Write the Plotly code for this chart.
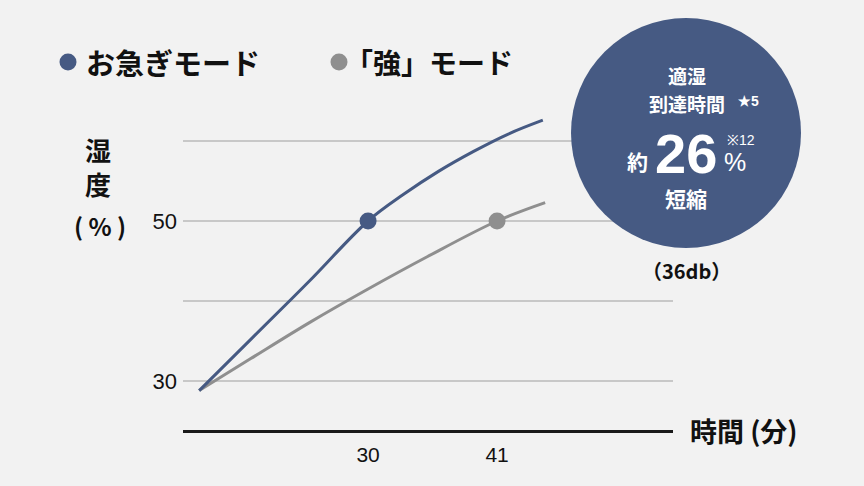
import plotly.graph_objects as go

# 湿度の立ち上がり
time_quick = [15.6, 20, 25, 30, 33, 36, 39, 42, 44.9]
humid_quick = [28.8, 35.2, 42.5, 50, 53.3, 56.2, 58.7, 60.9, 62.6]
time_strong = [15.6, 20, 25, 30, 35, 41, 45.1]
humid_strong = [28.8, 32.8, 37.3, 41.5, 45.5, 50, 52.3]

# 適湿（50%）到達時間
reach_time = [30, 41]
reach_humid = [50, 50]

mode_names = ["お急ぎモード", "「強」モード"]
y_grid = [30, 40, 50, 60]
y_labels = ["30", "", "50", ""]
x_ticks = [30, 41]

BLUE = "#465a83"
GRAY = "#8f8f8f"
BG = "#f2f2f2"
JP = "Noto Sans CJK JP"
NUM = "Liberation Sans, Arial, sans-serif"

# plot area in pixels, used to place the free text
L, R, T, B = 183, 673, 20, 430


def px(x):
    return (x - L) / (R - L)


def py(y):
    return (B - y) / (B - T)


fig = go.Figure()
fig.add_trace(go.Scatter(x=time_strong, y=humid_strong, mode="lines",
                         line=dict(color=GRAY, width=3, shape="spline", smoothing=1),
                         name=mode_names[1]))
fig.add_trace(go.Scatter(x=time_quick, y=humid_quick, mode="lines",
                         line=dict(color=BLUE, width=3, shape="spline", smoothing=1),
                         name=mode_names[0]))
fig.add_trace(go.Scatter(x=reach_time, y=reach_humid, mode="markers",
                         marker=dict(size=17, color=[BLUE, GRAY]), hoverinfo="skip"))

fig.update_xaxes(range=[14.22, 56.0], showgrid=False, zeroline=False,
                 showline=True, linecolor="#1a1a1a", linewidth=2.5,
                 tickvals=x_ticks, ticks="", ticklabelstandoff=4,
                 tickfont=dict(family=NUM, size=21, color="#111"))
fig.update_yaxes(range=[23.875, 75.125], showgrid=True, gridcolor="#c8c8c8", gridwidth=1.5,
                 zeroline=False, showline=False, tickvals=y_grid, ticktext=y_labels,
                 ticks="", ticklabelstandoff=5,
                 tickfont=dict(family=NUM, size=22, color="#111"))

shapes = [
    dict(type="circle", xref="paper", yref="paper", layer="above", line_width=0,
         fillcolor=BLUE, x0=px(571), x1=px(801), y0=py(248), y1=py(18)),
    dict(type="circle", xref="paper", yref="paper", line_width=0, fillcolor=BLUE,
         x0=px(59.5), x1=px(76.5), y0=py(70.5), y1=py(53.5)),
    dict(type="circle", xref="paper", yref="paper", line_width=0, fillcolor=GRAY,
         x0=px(330.5), x1=px(347.5), y0=py(70.5), y1=py(53.5)),
]


def note(text, x, y, size, color="#111", family=JP, xanchor="center"):
    return dict(text=text, x=px(x), y=py(y), xref="paper", yref="paper",
                xanchor=xanchor, yanchor="middle", showarrow=False,
                font=dict(family=family, size=size, color=color))


annotations = [
    note("<b>" + mode_names[0] + "</b>", 84, 62, 29, xanchor="left"),
    note("<b>" + mode_names[1] + "</b>", 343, 62, 28, xanchor="left"),
    note("<b>湿<br>度</b>", 98, 166, 26),
    note("<b>( % )</b>", 100, 225, 24),
    note("<b>時間 (分)</b>", 688, 430, 27, xanchor="left"),
    note("<b>適湿</b>", 687, 75, 19, color="white"),
    note("<b>到達時間</b>", 687, 104, 19, color="white"),
    note("<b>★5</b>", 736, 101, 14, color="white", family=NUM, xanchor="left"),
    note("<b>約</b>", 637, 161, 21, color="white"),
    note("<b>26</b>", 686, 154, 56, color="white", family=NUM),
    note("※12", 741, 140, 14, color="white", family=NUM),
    note("%", 735, 162, 25, color="white", family=NUM),
    note("<b>短縮</b>", 686, 198, 21, color="white"),
    note("<b>（36db）</b>", 686, 270, 20),
]

fig.update_layout(width=864, height=486, margin=dict(l=L, r=864 - R, t=T, b=486 - B),
                  paper_bgcolor=BG, plot_bgcolor=BG, showlegend=False,
                  shapes=shapes, annotations=annotations,
                  font=dict(family=JP, color="#111"))

fig.write_html("out.html", config={"displayModeBar": False},
               post_script="document.body.style.margin='0';")
